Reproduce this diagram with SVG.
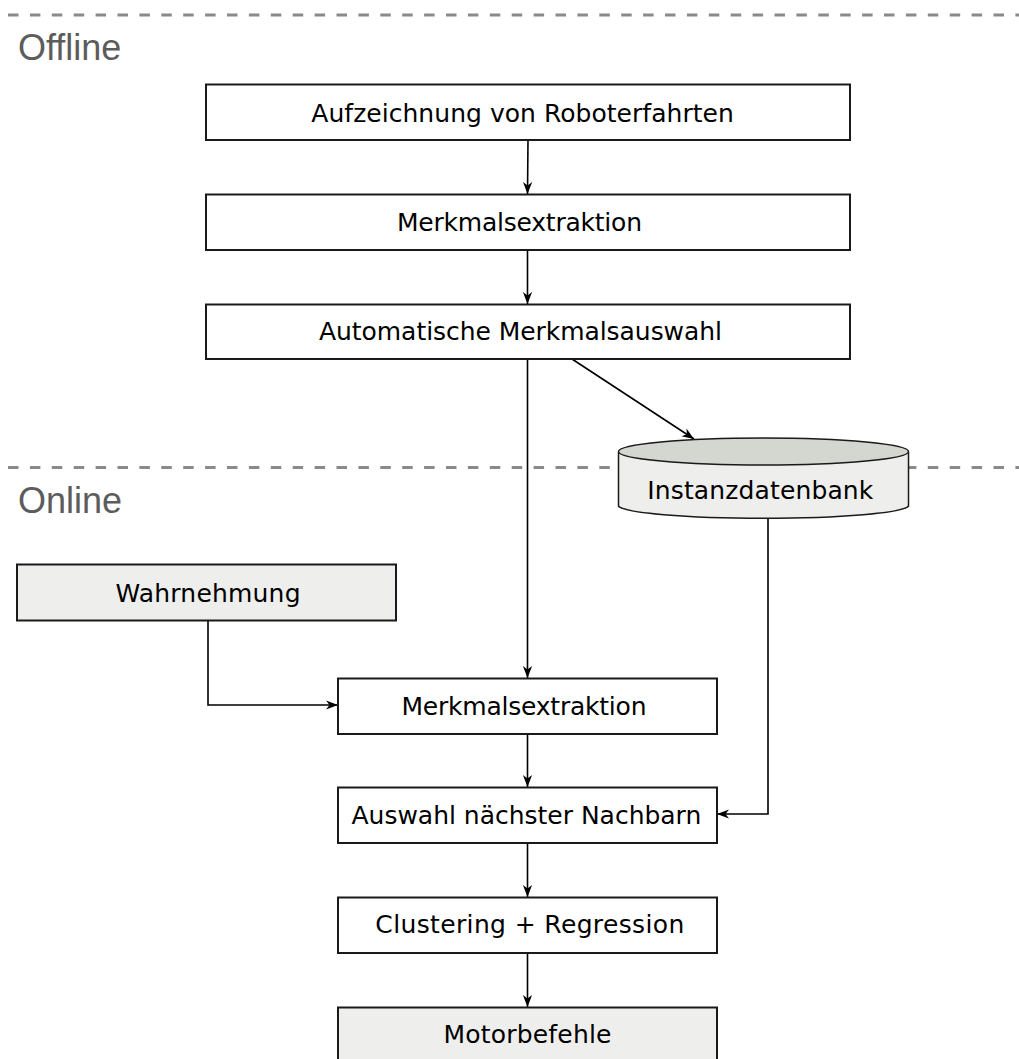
<svg xmlns="http://www.w3.org/2000/svg" width="1019" height="1059" viewBox="0 0 1019 1059">
<style>
.box{fill:#ffffff;stroke:#1a1a1a;stroke-width:2}
.grey{fill:#eeeeec;stroke:#1a1a1a;stroke-width:2}
.lbl{font-family:"DejaVu Sans",sans-serif;font-size:25px;fill:#000;text-anchor:start}
.sec{font-family:"Liberation Sans",Arial,sans-serif;font-size:36px;fill:#5c5c5c}
.dash{stroke:#8a8a8a;stroke-width:3;stroke-dasharray:10.5 11.4;fill:none}
.con{stroke:#000;stroke-width:1.6;fill:none;marker-end:url(#ah)}
</style>
<defs>
<marker id="ah" viewBox="-13 -6 14 12" refX="0" refY="0" markerWidth="14" markerHeight="12" markerUnits="userSpaceOnUse" orient="auto">
<path d="M0,0 L-12,-4.6 L-8.5,0 L-12,4.6 Z" fill="#000"/>
</marker>
</defs>
<g id="sections">
<line class="dash" x1="8" y1="15" x2="1019" y2="15"/>
<text class="sec" x="18" y="59.5">Offline</text>
<line class="dash" x1="8" y1="467.5" x2="1019" y2="467.5"/>
<text class="sec" x="18" y="512.5">Online</text>
</g>
<g id="connectors">
<path class="con" d="M528,140 L527.5,194"/>
<path class="con" d="M527.5,250 L527.5,304"/>
<path class="con" d="M527.5,359 L527.5,678"/>
<path class="con" d="M572,359 L694,439"/>
<path class="con" d="M208,621 L208,705 L338,705"/>
<path class="con" d="M527.5,734 L527.5,787"/>
<path class="con" d="M768,519 L768,814 L717,814"/>
<path class="con" d="M527.5,843 L527.5,897"/>
<path class="con" d="M527.5,953 L527.5,1007"/>
</g>
<g id="n1"><rect class="box" x="206" y="84.5" width="644" height="55.5"/><text class="lbl" x="311.3" y="121.5" textLength="422.5" lengthAdjust="spacing">Aufzeichnung von Roboterfahrten</text></g>
<g id="n2"><rect class="box" x="206" y="194.5" width="644" height="55.5"/><text class="lbl" x="397" y="231" textLength="245" lengthAdjust="spacing">Merkmalsextraktion</text></g>
<g id="n3"><rect class="box" x="206" y="304.5" width="644" height="54.5"/><text class="lbl" x="319" y="340" textLength="403" lengthAdjust="spacing">Automatische Merkmalsauswahl</text></g>
<g id="db">
<path d="M618.5,452 L618.5,506 A145.25,13 0 0 0 908.5,506 L908.5,452" fill="#eeeeec" stroke="#1a1a1a" stroke-width="1.5"/>
<ellipse cx="763.5" cy="451.5" rx="145" ry="13.5" fill="#d3d7cf" stroke="#1a1a1a" stroke-width="1.5"/>
<text class="lbl" x="647.3" y="499" textLength="226" lengthAdjust="spacing">Instanzdatenbank</text>
</g>
<g id="n4"><rect class="grey" x="17" y="564.5" width="379" height="56"/><text class="lbl" x="115.5" y="601.5" textLength="185" lengthAdjust="spacing">Wahrnehmung</text></g>
<g id="n5"><rect class="box" x="338" y="678.5" width="379" height="55.5"/><text class="lbl" x="401.5" y="714.5" textLength="245" lengthAdjust="spacing">Merkmalsextraktion</text></g>
<g id="n6"><rect class="box" x="338" y="787.5" width="379" height="55.5"/><text class="lbl" x="351.5" y="823.5" textLength="349.8" lengthAdjust="spacing">Auswahl nächster Nachbarn</text></g>
<g id="n7"><rect class="box" x="338" y="897.5" width="379" height="55.5"/><text class="lbl" x="375.3" y="933.3" textLength="309" lengthAdjust="spacing">Clustering + Regression</text></g>
<g id="n8"><rect class="grey" x="338" y="1007.5" width="379" height="60"/><text class="lbl" x="443.5" y="1042.5" textLength="168" lengthAdjust="spacing">Motorbefehle</text></g>
</svg>
